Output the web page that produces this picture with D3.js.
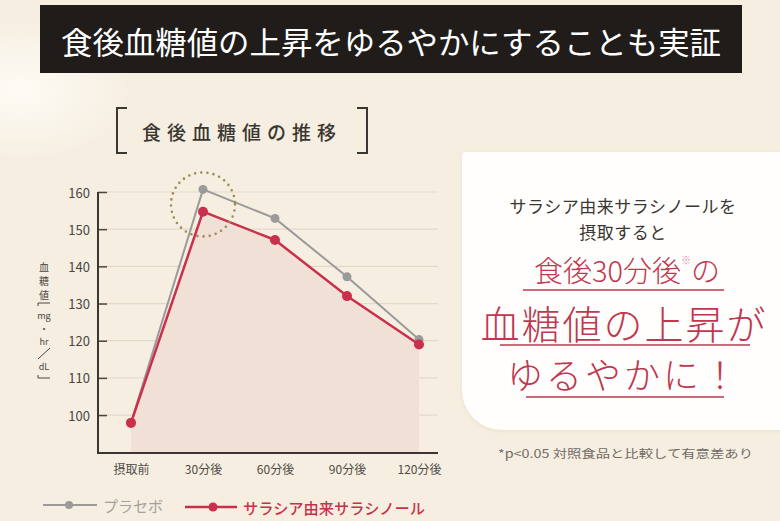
<!DOCTYPE html>
<html><head><meta charset="utf-8">
<script src="https://cdn.jsdelivr.net/npm/d3@7"></script>
<style>
html,body{margin:0;padding:0;background:#f6efe1;}
svg{display:block;}
text{font-family:"Noto Sans CJK JP","Noto Sans",sans-serif;}
</style></head>
<body>
<svg id="c" width="780" height="521"></svg>
<script>
const categories = ["摂取前","30分後","60分後","90分後","120分後"];
const placebo = [98, 160.7, 152.9, 137.2, 120.3];
const salacinol = [97.9, 154.7, 147.1, 132.0, 119.0];
const yTicks = [100,110,120,130,140,150,160];
const seriesNames = ["プラセボ","サラシア由来サラシノール"];
const mainTitle = "食後血糖値の上昇をゆるやかにすることも実証";
const chartTitle = "食後血糖値の推移";
const yLabelKanji = ["血","糖","値"];
const yLabelUnit = ["mg","・","hr","dL"];
const panelLines = ["サラシア由来サラシノールを","摂取すると"];
const footnote = "*p<0.05 対照食品と比較して有意差あり";

const svg = d3.select("#c");
const defs = svg.append("defs");
const rg = defs.append("radialGradient").attr("id","glow").attr("cx","0.5").attr("cy","0.5").attr("r","0.5");
rg.append("stop").attr("offset","0").attr("stop-color","#fffdf8").attr("stop-opacity",0.9);
rg.append("stop").attr("offset","1").attr("stop-color","#fffdf8").attr("stop-opacity",0);
const sh = defs.append("filter").attr("id","sh").attr("x","-10%").attr("y","-10%").attr("width","130%").attr("height","130%");
sh.append("feDropShadow").attr("dx",0).attr("dy",1).attr("stdDeviation",2).attr("flood-color","#b8a98a").attr("flood-opacity",0.25);

svg.append("rect").attr("width",780).attr("height",521).attr("fill","#f6efe1");
svg.append("ellipse").attr("cx",20).attr("cy",90).attr("rx",110).attr("ry",70).attr("fill","url(#glow)");

// title bar
svg.append("rect").attr("x",40).attr("y",5).attr("width",702).attr("height",68).attr("fill","#1f1c19");
svg.append("text").attr("x",391).attr("y",40).attr("text-anchor","middle").attr("dominant-baseline","central")
  .attr("fill","#fff").attr("font-size",31).attr("textLength",660).attr("lengthAdjust","spacingAndGlyphs")
  .text(mainTitle);

// chart title with brackets
const br = svg.append("g").attr("fill","none").attr("stroke","#3a3632").attr("stroke-width",2);
br.append("path").attr("d","M127,108 H117 V153 H127");
br.append("path").attr("d","M357,108 H367 V153 H357");
svg.append("text").attr("x",242).attr("y",131).attr("text-anchor","middle").attr("dominant-baseline","central")
  .attr("fill","#3a3632").attr("font-size",19).attr("letter-spacing",6).attr("font-weight",500).text(chartTitle);

// scales
const x = d3.scalePoint().domain(categories).range([131,419]);
const y = d3.scaleLinear().domain([89.8,160]).range([453,192]);
const xL = 98, xR = 438, yB = 453;

// grid
svg.append("g").selectAll("line").data(yTicks).join("line")
  .attr("x1",xL).attr("x2",xR).attr("y1",d=>y(d)).attr("y2",d=>y(d))
  .attr("stroke","#e4d8cb").attr("stroke-width",1.2);

// area
const area = d3.area().x((d,i)=>x(categories[i])).y0(yB).y1(d=>y(d));
svg.append("path").datum(salacinol).attr("d",area).attr("fill","#f1e0d5");

// axes
const yAxis = d3.axisRight(y).tickValues(yTicks).tickSize(9).tickFormat("");
const ga = svg.append("g").attr("transform",`translate(${xL},0)`).call(yAxis);
ga.select(".domain").remove();
ga.selectAll(".tick line").attr("stroke","#4a4642").attr("stroke-width",1.5);
svg.append("path").attr("d",`M${xL},${y(160)} V${yB} H${xR}`).attr("fill","none").attr("stroke","#3a3632").attr("stroke-width",2);

svg.append("g").selectAll("text").data(yTicks).join("text")
  .attr("x",90).attr("y",d=>y(d)).attr("text-anchor","end").attr("dominant-baseline","central")
  .attr("font-family","Lato, sans-serif").attr("font-size",13).attr("fill","#4a4642").text(d=>d);

const xAxis = d3.axisBottom(x).tickSize(0).tickPadding(0);
const gx = svg.append("g").attr("transform",`translate(0,${yB+17})`).call(xAxis);
gx.select(".domain").remove();
gx.selectAll("text").attr("font-size",12).attr("fill","#4f4b47").attr("dy","0.35em")
  .attr("font-family","'Noto Sans CJK JP',sans-serif");

// y label
const yl = svg.append("g").attr("fill","#4a4642").attr("font-size",10).attr("text-anchor","middle");
yLabelKanji.forEach((t,i)=>yl.append("text").attr("x",44).attr("y",266+i*14).attr("dominant-baseline","central").text(t));
const ub = svg.append("g").attr("fill","none").attr("stroke","#4a4642").attr("stroke-width",1);
ub.append("path").attr("d","M38,306 V303 H50");
ub.append("path").attr("d","M38,375 V378 H50");
ub.append("path").attr("d","M38,359 L50,348");
const unitY = [315,328,341,366];
yLabelUnit.forEach((t,i)=>yl.append("text").attr("x",44).attr("y",unitY[i]).attr("dominant-baseline","central")
  .attr("font-size",9).attr("font-family","'Noto Sans CJK JP',sans-serif").text(t));

// lines
const line = d3.line().x((d,i)=>x(categories[i])).y(d=>y(d));
svg.append("path").datum(placebo).attr("d",line).attr("fill","none").attr("stroke","#9b9a9a").attr("stroke-width",2);
svg.append("g").selectAll("circle").data(placebo).join("circle")
  .attr("cx",(d,i)=>x(categories[i])).attr("cy",d=>y(d)).attr("r",4.5).attr("fill","#9b9a9a");
svg.append("path").datum(salacinol).attr("d",line).attr("fill","none").attr("stroke","#c9304c").attr("stroke-width",2.5);
svg.append("g").selectAll("circle").data(salacinol).join("circle")
  .attr("cx",(d,i)=>x(categories[i])).attr("cy",d=>y(d)).attr("r",5).attr("fill","#c9304c");

// dotted highlight circle
svg.append("circle").attr("cx",x(categories[1])).attr("cy",y(placebo[1])+15).attr("r",32)
  .attr("fill","none").attr("stroke","#9e8b58").attr("stroke-width",2.6)
  .attr("stroke-dasharray","0 6.2").attr("stroke-linecap","round");

// legend
const lg = svg.append("g");
lg.append("line").attr("x1",43).attr("x2",97).attr("y1",505).attr("y2",505).attr("stroke","#9b9a9a").attr("stroke-width",2);
lg.append("circle").attr("cx",69).attr("cy",505).attr("r",4).attr("fill","#9b9a9a");
lg.append("text").attr("x",103).attr("y",505).attr("dominant-baseline","central").attr("font-size",15)
  .attr("fill","#a3a1a0").text(seriesNames[0]);
lg.append("line").attr("x1",185).attr("x2",237).attr("y1",507).attr("y2",507).attr("stroke","#c9304c").attr("stroke-width",2.5);
lg.append("circle").attr("cx",213).attr("cy",507).attr("r",4.5).attr("fill","#c9304c");
lg.append("text").attr("x",243).attr("y",507).attr("dominant-baseline","central").attr("font-size",15)
  .attr("font-weight",500).attr("fill","#c9304c").attr("textLength",182).attr("lengthAdjust","spacingAndGlyphs").text(seriesNames[1]);

// right panel
svg.append("path").attr("d","M466,152 H790 V430 H502 A40,40 0 0 1 462,390 V156 A4,4 0 0 1 466,152 Z")
  .attr("fill","#fffefc").attr("filter","url(#sh)");
const pc = 623;
svg.append("text").attr("x",pc).attr("y",205).attr("text-anchor","middle").attr("dominant-baseline","central")
  .attr("font-size",17).attr("fill","#3a3632").attr("letter-spacing",0.5).text(panelLines[0]);
svg.append("text").attr("x",pc).attr("y",231).attr("text-anchor","middle").attr("dominant-baseline","central")
  .attr("font-size",17).attr("fill","#3a3632").attr("letter-spacing",0.5).text(panelLines[1]);

const red = "#c0374f";
const h1 = svg.append("text").attr("x",627).attr("y",269).attr("text-anchor","middle").attr("dominant-baseline","central")
  .attr("font-size",29).attr("fill",red).attr("font-weight",300);
h1.append("tspan").text("食後30分後");
h1.append("tspan").attr("font-size",10).attr("dy",-10).attr("fill","#d68b98").text("※");
h1.append("tspan").attr("dy",10).text("の");
svg.append("line").attr("x1",523).attr("x2",724).attr("y1",290).attr("y2",290).attr("stroke",red).attr("stroke-width",1.5);

svg.append("text").attr("x",624).attr("y",322).attr("text-anchor","middle").attr("dominant-baseline","central")
  .attr("font-size",39).attr("fill",red).attr("font-weight",300).attr("letter-spacing",2).text("血糖値の上昇が");
svg.append("line").attr("x1",500).attr("x2",750).attr("y1",345).attr("y2",345).attr("stroke",red).attr("stroke-width",1.5);

svg.append("text").attr("x",624).attr("y",373).attr("text-anchor","middle").attr("dominant-baseline","central")
  .attr("font-size",36).attr("fill",red).attr("font-weight",300).attr("letter-spacing",3).text("ゆるやかに！");
svg.append("line").attr("x1",526).attr("x2",724).attr("y1",397).attr("y2",397).attr("stroke",red).attr("stroke-width",1.5);

svg.append("text").attr("x",498).attr("y",453).attr("dominant-baseline","central")
  .attr("font-size",11.5).attr("fill","#6f6b66").attr("textLength",255).attr("lengthAdjust","spacingAndGlyphs").text(footnote);
</script>
</body></html>
